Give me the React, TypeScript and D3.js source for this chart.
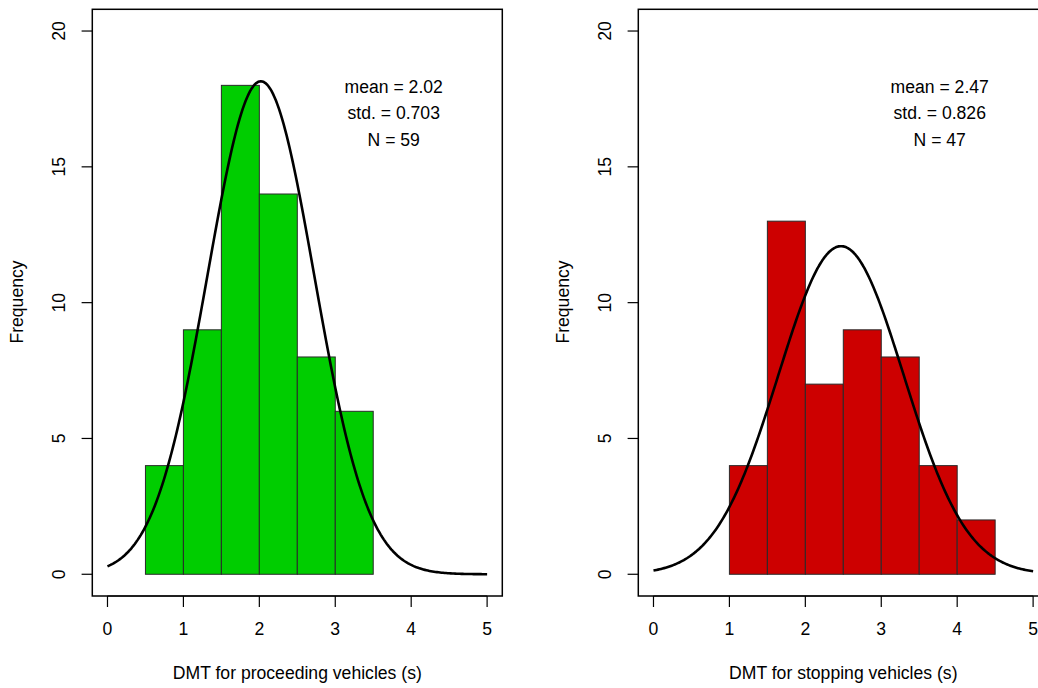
import React from "react";
import * as d3 from "d3";

// Histogram bins (lower edges, width 0.5) and counts
const leftBinStarts = [0.5, 1.0, 1.5, 2.0, 2.5, 3.0];
const leftCounts = [4, 9, 18, 14, 8, 6];
const rightBinStarts = [1.0, 1.5, 2.0, 2.5, 3.0, 3.5, 4.0];
const rightCounts = [4, 13, 7, 9, 8, 4, 2];
const binWidth = 0.5;

// Normal curve parameters (from annotation) and fitted peak height
const means = [2.02, 2.47];
const stds = [0.703, 0.826];
const ns = [59, 47];
const peaks = [18.15, 12.08];

const xTicks = [0, 1, 2, 3, 4, 5];
const yTicks = [0, 5, 10, 15, 20];
const xTitles = ["DMT for proceeding vehicles (s)", "DMT for stopping vehicles (s)"];
const fills = ["#00CD00", "#CD0000"];

const FONT = "'Liberation Sans', Arial, sans-serif";
const FS = 17.6;

function Panel({ left, binStarts, counts, idx }: { left: number; binStarts: number[]; counts: number[]; idx: number }) {
  const x = d3.scaleLinear().domain([-0.2, 5.2]).range([left, left + 410]);
  const y = d3.scaleLinear().domain([-0.8, 20.8]).range([596, 9.3]);
  const mu = means[idx];
  const sd = stds[idx];
  const pk = peaks[idx];
  const pts = d3.range(0, 5.0001, 0.02).map((v) => [v, pk * Math.exp(-0.5 * ((v - mu) / sd) ** 2)] as [number, number]);
  const line = d3.line<[number, number]>().x((d) => x(d[0])).y((d) => y(d[1]));
  const textX = x(3.77);
  const lines = [`mean = ${mu.toFixed(2)}`, `std. = ${sd.toFixed(3)}`, `N = ${ns[idx]}`];
  const textYs = [17.9, 16.92, 15.93];
  return (
    <g>
      {binStarts.map((b, i) => (
        <rect
          key={i}
          x={x(b)}
          y={y(counts[i])}
          width={x(b + binWidth) - x(b)}
          height={y(0) - y(counts[i])}
          fill={fills[idx]}
          stroke="#2a2a2a"
          strokeWidth={1}
        />
      ))}
      <path d={line(pts) || ""} fill="none" stroke="#000" strokeWidth={2.6} strokeLinejoin="round" />
      <rect x={left} y={9.3} width={410} height={596 - 9.3} fill="none" stroke="#000" strokeWidth={1.5} />
      {/* x axis */}
      <line x1={x(0)} x2={x(5)} y1={596} y2={596} stroke="#000" strokeWidth={1.2} />
      {xTicks.map((t) => (
        <g key={t}>
          <line x1={x(t)} x2={x(t)} y1={596} y2={607} stroke="#000" strokeWidth={1.2} />
          <text x={x(t)} y={630} fontSize={FS} fontFamily={FONT} textAnchor="middle" dominantBaseline="middle" fill="#000">
            {t}
          </text>
        </g>
      ))}
      {/* y axis */}
      {yTicks.map((t) => (
        <g key={t}>
          <line x1={left - 10.7} x2={left} y1={y(t)} y2={y(t)} stroke="#000" strokeWidth={1.2} />
          <text
            transform={`translate(${left - 32},${y(t)}) rotate(-90)`}
            fontSize={FS}
            fontFamily={FONT}
            textAnchor="middle"
            dominantBaseline="middle"
            fill="#000"
          >
            {t}
          </text>
        </g>
      ))}
      <text
        transform={`translate(${left - 74},302) rotate(-90)`}
        fontSize={FS}
        fontFamily={FONT}
        textAnchor="middle"
        dominantBaseline="middle"
        fill="#000"
      >
        Frequency
      </text>
      <text x={x(2.5)} y={674} fontSize={FS} fontFamily={FONT} textAnchor="middle" dominantBaseline="middle" fill="#000">
        {xTitles[idx]}
      </text>
      {lines.map((s, i) => (
        <text key={i} x={textX} y={y(textYs[i])} fontSize={FS} fontFamily={FONT} textAnchor="middle" dominantBaseline="middle" fill="#000">
          {s}
        </text>
      ))}
    </g>
  );
}

export default function App() {
  return (
    <svg width={1038} height={688} style={{ position: "absolute", left: 0, top: 0, background: "#fff" }}>
      <rect x={0} y={0} width={1038} height={688} fill="#fff" />
      <Panel left={92.3} binStarts={leftBinStarts} counts={leftCounts} idx={0} />
      <Panel left={638.3} binStarts={rightBinStarts} counts={rightCounts} idx={1} />
    </svg>
  );
}
